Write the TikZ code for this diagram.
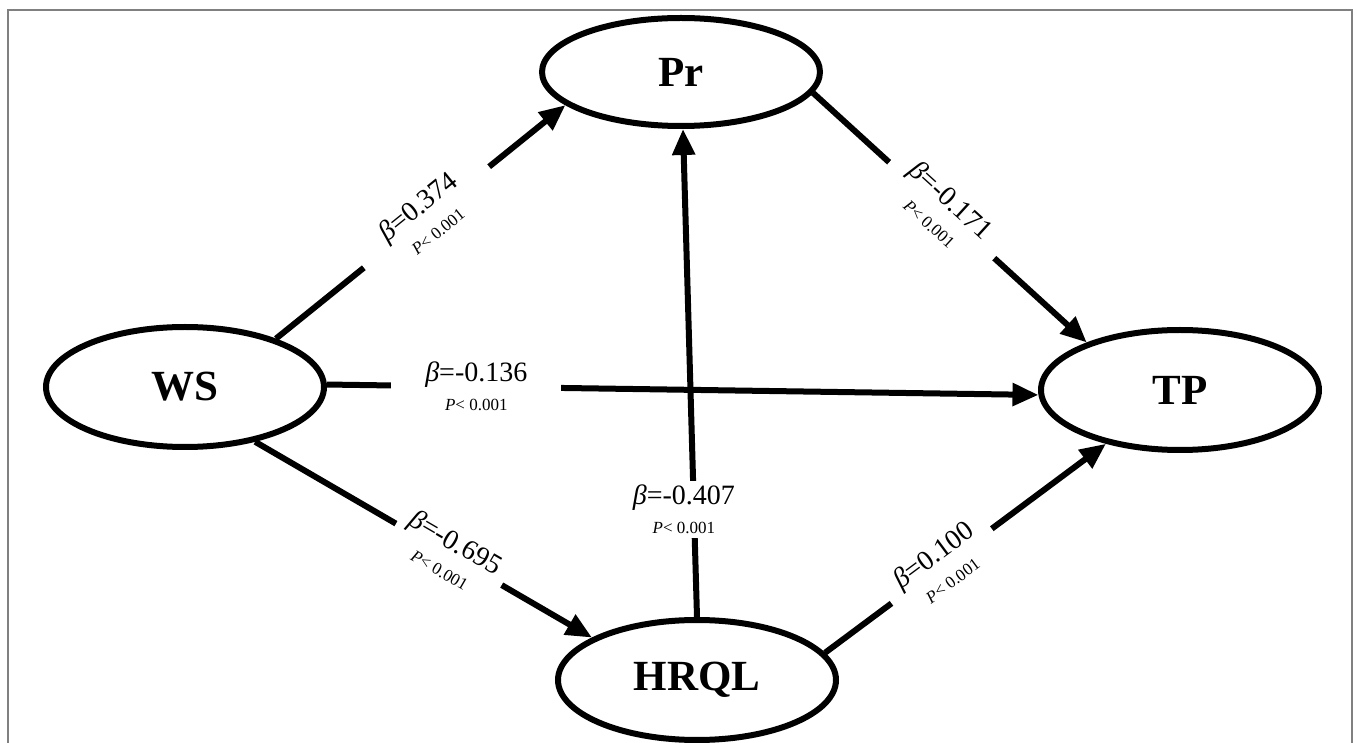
\documentclass[tikz,border=0pt]{standalone}
\usepackage{fontspec}
\setmainfont{Liberation Serif}
\usetikzlibrary{arrows.meta,shapes.geometric}

\newcommand{\coefb}[1]{{\itshape β}=#1\\{\fontsize{8.5}{10}\selectfont\textit{P}< 0.001}}

\begin{document}
\begin{tikzpicture}[
    x=0.5pt, y=-0.5pt,
    latent/.style={draw, ellipse, line width=3pt, minimum width=139pt, minimum height=60pt, inner sep=0pt, font=\fontsize{21.5}{24}\selectfont\bfseries},
    arr/.style={line width=3pt, -{Triangle[length=13pt, width=11pt]}},
    coef/.style={fill=white, inner xsep=14pt, inner ysep=2pt, align=center, font=\fontsize{14}{14.5}\selectfont}
]
    \useasboundingbox (0,0) rectangle (1357,743);
    \draw[gray, line width=1pt] (8,743) -- (8,10) -- (1352,10) -- (1352,743);

    \node[latent] (WS) at (185,387) {WS};
    \node[latent, minimum height=54pt] (Pr) at (681,72) {Pr};
    \node[latent] (TP) at (1180,390) {TP};
    \node[latent] (HRQL) at (697,680) {HRQL};

    \draw[arr] (WS.28) -- node[coef, sloped, pos=0.52, inner xsep=17pt] {\coefb{0.374}} (Pr.196);
    \draw[arr] (WS.1) -- node[coef, pos=0.21, inner xsep=17pt] {\coefb{-0.136}} (TP.182);
    \draw[arr] (WS.-38) -- node[coef, sloped, pos=0.575, inner xsep=5pt] {\coefb{-0.695}} (HRQL.158);
    \draw[arr] (Pr.-9) -- node[coef, sloped, pos=0.47, inner xsep=10pt] {\coefb{-0.171}} (TP.153);
    \draw[arr] (HRQL.90) -- node[coef, pos=0.22, xshift=-5pt] {\coefb{-0.407}} (Pr.-88);
    \draw[arr] (HRQL.12) -- node[coef, sloped, pos=0.415, inner xsep=8pt] {\coefb{0.100}} (TP.216);
\end{tikzpicture}
\end{document}
